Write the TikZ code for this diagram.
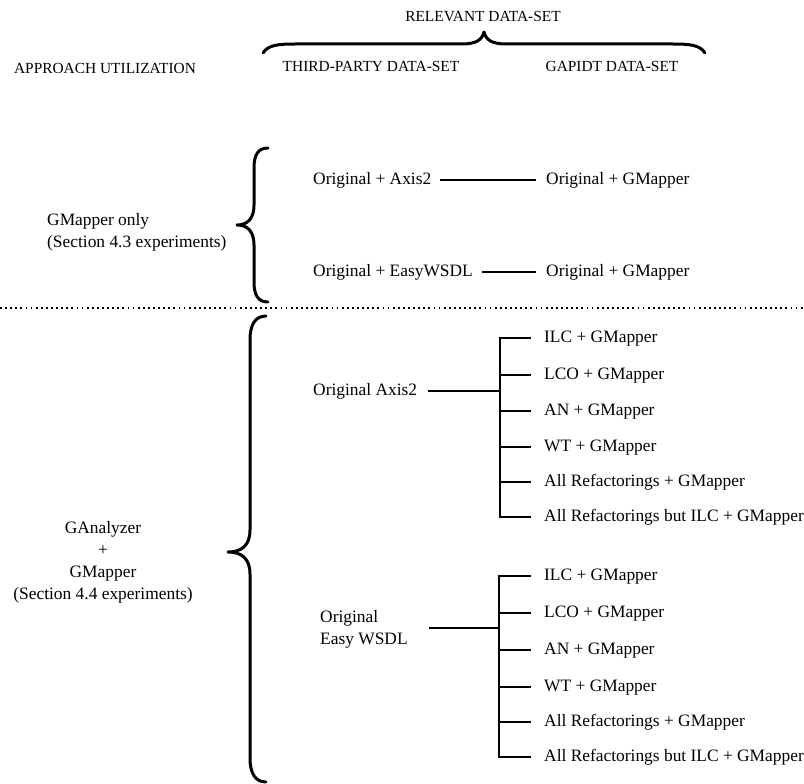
\documentclass[tikz,border=0pt]{standalone}
\usepackage{fontspec}
\setmainfont{Liberation Serif}
\begin{document}
\begin{tikzpicture}[x=1pt,y=-1pt,
  lbl/.style={anchor=west, inner sep=0pt, font=\fontsize{17.4}{21}\selectfont, text height=12pt, text depth=4pt},
  multi/.style={inner sep=0pt, font=\fontsize{17.4}{22}\selectfont},
  hdr/.style={inner sep=0pt, font=\fontsize{15.4}{18}\selectfont},
  conn/.style={line width=1.4pt},
  tree/.style={line width=1.8pt, line join=miter},
  brc/.style={line width=3pt, line cap=round, line join=round},
  dotline/.style={line width=1.8pt, dash pattern=on 1.8pt off 3.3pt}]
\useasboundingbox (0,0) rectangle (804,784);

% header
\node[hdr] (rel) at (483,17) {RELEVANT DATA-SET};
\node[hdr] (tp) at (371,66) {THIRD-PARTY DATA-SET};
\node[hdr] (gp) at (612,66) {GAPIDT DATA-SET};
\node[hdr] (au) at (105,68) {APPROACH UTILIZATION};
\draw[brc] (263,53) .. controls (268,45) and (278,44) .. (295,44) -- (462,44)
  .. controls (476,44) and (482,40) .. (484,32)
  .. controls (486,40) and (492,44) .. (506,44) -- (673,44)
  .. controls (690,44) and (700,45) .. (705,53);

% section 1
\node[multi, anchor=west, align=left] (g1) at (47,232) {GMapper only\\(Section 4.3 experiments)};
\draw[brc] (268,148) .. controls (258,148) and (254,155) .. (254,168) -- (254,205)
  .. controls (254,218) and (248,225) .. (237,225)
  .. controls (248,225) and (254,232) .. (254,245) -- (254,282)
  .. controls (254,295) and (258,302) .. (268,302);
\node[lbl] (a1) at (313,180) {Original + Axis2};
\node[lbl] (m1) at (546,180) {Original + GMapper};
\node[lbl] (a2) at (313,272) {Original + EasyWSDL};
\node[lbl] (m2) at (546,272) {Original + GMapper};
\draw[conn] ([xshift=9pt]a1.east) -- ([xshift=-10pt]m1.west);
\draw[conn] ([xshift=9pt]a2.east) -- ([xshift=-10pt]m2.west);

% separator
\coordinate (sl) at (0,308);
\coordinate (sr) at (804,308);
\draw[dotline] (sl) -- (sr);

% section 2
\node[multi, align=center] (g2) at (103,562) {GAnalyzer\\+\\GMapper\\(Section 4.4 experiments)};
\draw[brc] (266,316) .. controls (255,316) and (250,325) .. (250,340) -- (250,530)
  .. controls (250,545) and (242,552) .. (228,552)
  .. controls (242,552) and (250,559) .. (250,574) -- (250,758)
  .. controls (250,773) and (255,782) .. (266,782);

% upper tree
\node[lbl] (o1) at (313,391) {Original Axis2};
\coordinate (j1) at (500,391);
\node[lbl] (u1) at (544,338) {ILC + GMapper};
\node[lbl] (u2) at (544,375) {LCO + GMapper};
\node[lbl] (u3) at (544,411) {AN + GMapper};
\node[lbl] (u4) at (544,447) {WT + GMapper};
\node[lbl] (u5) at (544,482) {All Refactorings + GMapper};
\node[lbl] (u6) at (544,517) {All Refactorings but ILC + GMapper};
\draw[tree] ([xshift=11pt]o1.east) -- (j1);
\draw[tree] ([xshift=-13pt]u1.west) -- (j1 |- u1.west) -- (j1 |- u6.west) -- ([xshift=-13pt]u6.west);
\foreach \n in {u2,u3,u4,u5}
  \draw[tree] (j1 |- \n.west) -- ([xshift=-13pt]\n.west);

% lower tree
\node[multi, anchor=west, align=left] (o2) at (320,629) {Original\\Easy WSDL};
\coordinate (s2) at (429,628);
\coordinate (j2) at (499,628);
\node[lbl] (w1) at (544,576) {ILC + GMapper};
\node[lbl] (w2) at (544,613) {LCO + GMapper};
\node[lbl] (w3) at (544,650) {AN + GMapper};
\node[lbl] (w4) at (544,687) {WT + GMapper};
\node[lbl] (w5) at (544,722) {All Refactorings + GMapper};
\node[lbl] (w6) at (544,757) {All Refactorings but ILC + GMapper};
\draw[tree] (s2) -- (j2);
\draw[tree] ([xshift=-13pt]w1.west) -- (j2 |- w1.west) -- (j2 |- w6.west) -- ([xshift=-13pt]w6.west);
\foreach \n in {w2,w3,w4,w5}
  \draw[tree] (j2 |- \n.west) -- ([xshift=-13pt]\n.west);
\end{tikzpicture}
\end{document}
